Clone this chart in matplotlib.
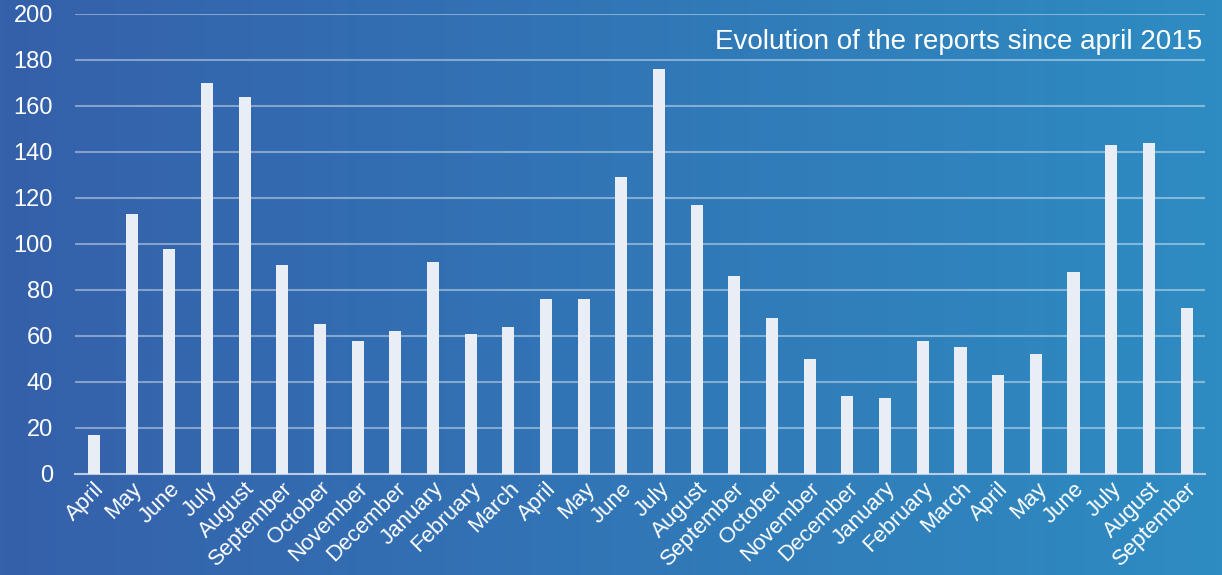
import numpy as np
import matplotlib.pyplot as plt
from matplotlib.colors import LinearSegmentedColormap

months = ["April", "May", "June", "July", "August", "September", "October",
          "November", "December", "January", "February", "March",
          "April", "May", "June", "July", "August", "September", "October",
          "November", "December", "January", "February", "March",
          "April", "May", "June", "July", "August", "September"]
reports = [17, 113, 98, 170, 164, 91, 65, 58, 62, 92, 61, 64,
           76, 76, 129, 176, 117, 86, 68, 50, 34, 33, 58, 55,
           43, 52, 88, 143, 144, 72]
y_ticks = [0, 20, 40, 60, 80, 100, 120, 140, 160, 180, 200]

plt.rcParams['font.family'] = ['Liberation Sans', 'DejaVu Sans']

fig = plt.figure(figsize=(12.22, 5.75), dpi=100)

# gradient background
bg = fig.add_axes([0, 0, 1, 1])
cmap = LinearSegmentedColormap.from_list("bg", ["#3560AA", "#2E8CC2"])
grad = np.linspace(0, 1, 256).reshape(1, -1)
bg.imshow(grad, aspect="auto", cmap=cmap, extent=[0, 1, 0, 1])
bg.axis("off")

ax = fig.add_axes([0.0614, 0.1757, 0.925, 0.8])
ax.patch.set_alpha(0)

x = np.arange(len(reports))
ax.bar(x, reports, width=0.32, color="#E9EEF6", zorder=3)

ax.set_xlim(-0.5, len(reports) - 0.5)
ax.set_ylim(0, 200)
ax.set_yticks(y_ticks)
ax.yaxis.grid(True, color="white", alpha=0.4, linewidth=1.5, zorder=0)
ax.set_axisbelow(True)

for s in ["top", "right", "left"]:
    ax.spines[s].set_visible(False)
ax.spines["bottom"].set_color("#B8CBE2")
ax.spines["bottom"].set_linewidth(1.5)

ax.tick_params(axis="y", length=0, pad=16, labelsize=17, labelcolor="white")
ax.tick_params(axis="x", length=0, pad=3, labelcolor="white")
ax.set_xticks(x)
ax.set_xticklabels(months, rotation=45, ha="right", va="top",
                   rotation_mode="anchor", fontsize=16)

ax.text(0.997, 0.94, "Evolution of the reports since april 2015",
        transform=ax.transAxes, ha="right", va="center",
        fontsize=20, color="white")

fig.savefig("out.png", dpi=100)
